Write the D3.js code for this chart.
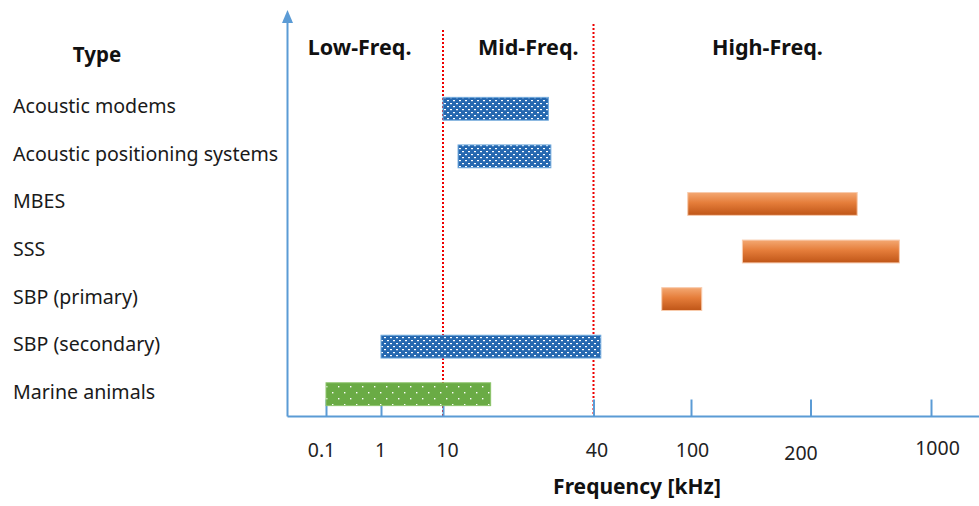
<!DOCTYPE html>
<html>
<head>
<meta charset="utf-8">
<script src="https://cdn.jsdelivr.net/npm/d3@7"></script>
<style>
  body { margin: 0; background: #fff; }
  svg { display: block; font-family: "Noto Sans", "Open Sans", sans-serif; }
</style>
</head>
<body>
<div id="chart"></div>
<script>
// Frequency ranges of underwater acoustic sources
const types = ['Acoustic modems', 'Acoustic positioning systems', 'MBES', 'SSS',
    'SBP (primary)', 'SBP (secondary)', 'Marine animals'];
const freqFrom = [10, 13, 98, 143, 82, 1, 0.1];
const freqTo = [31, 31.5, 510, 790, 109, 44.5, 19.5];
const fillKind = ['blue', 'blue', 'orange', 'orange', 'orange', 'blue', 'green'];

const tickValues = [0.1, 1, 10, 40, 100, 200, 1000];
const tickLabels = ['0.1', '1', '10', '40', '100', '200', '1000'];
const bandBounds = [10, 40];
const bandNames = ['Low-Freq.', 'Mid-Freq.', 'High-Freq.'];
const bandNameAt = [0.65, 27, 164];

const width = 979;
const height = 506;
const axisColor = '#5b9bd5';

// hand placed label nudges, as in the original slide
const tickDx = [-5, -1, 4, 3, 1, -10, 6];
const tickDy = [0, 0, 0, 0, 0, 3, -2];

const svg = d3.select('#chart')
    .append('svg')
    .attr('width', width)
    .attr('height', height);

// the frequency axis is not a real log scale, ticks are placed by hand
const x = d3.scaleLinear()
    .domain(tickValues)
    .range([326, 381, 443, 593.5, 691, 810.5, 931]);

const y = d3.scaleBand()
    .domain(types)
    .range([85, 418])
    .paddingInner(0.52)
    .paddingOuter(0.26);

const axisY = 416.5;
const axisX = 287.5;

// patterns and gradient
const defs = svg.append('defs');

const bluePat = defs.append('pattern')
    .attr('id', 'pat-blue')
    .attr('patternUnits', 'userSpaceOnUse')
    .attr('width', 6).attr('height', 6);
bluePat.append('rect').attr('width', 6).attr('height', 6).attr('fill', '#2568b0');
bluePat.append('rect').attr('x', 0).attr('y', 1).attr('width', 2).attr('height', 1.2).attr('fill', '#fff');
bluePat.append('rect').attr('x', 3).attr('y', 4).attr('width', 2).attr('height', 1.2).attr('fill', '#fff');

const greenPat = defs.append('pattern')
    .attr('id', 'pat-green')
    .attr('patternUnits', 'userSpaceOnUse')
    .attr('width', 12).attr('height', 12);
greenPat.append('rect').attr('width', 12).attr('height', 12).attr('fill', '#6aab45');
greenPat.append('rect').attr('x', 2).attr('y', 2).attr('width', 1.4).attr('height', 1.4).attr('fill', '#fff');
greenPat.append('rect').attr('x', 8).attr('y', 8).attr('width', 1.4).attr('height', 1.4).attr('fill', '#fff');

const grad = defs.append('linearGradient')
    .attr('id', 'grad-orange')
    .attr('x1', 0).attr('y1', 0).attr('x2', 0).attr('y2', 1);
grad.append('stop').attr('offset', '0%').attr('stop-color', '#f4a872');
grad.append('stop').attr('offset', '45%').attr('stop-color', '#e57d3a');
grad.append('stop').attr('offset', '100%').attr('stop-color', '#bf5517');

const fillFor = { blue: 'url(#pat-blue)', green: 'url(#pat-green)', orange: 'url(#grad-orange)' };
const strokeFor = { blue: '#6fa8dc', green: '#8cc46a', orange: '#f8cbad' };

// red dotted band separators
svg.selectAll('line.band')
    .data(bandBounds)
    .enter().append('line')
    .attr('class', 'band')
    .attr('x1', d => x(d)).attr('x2', d => x(d))
    .attr('y1', (d, i) => i === 0 ? 30 : 24)
    .attr('y2', axisY)
    .attr('stroke', '#ee0000')
    .attr('stroke-width', 2)
    .attr('stroke-dasharray', '2,2');

// x axis ticks and labels
const xAxis = d3.axisBottom(x)
    .tickValues(tickValues)
    .tickFormat((d, i) => tickLabels[i])
    .tickSizeInner(-17)
    .tickSizeOuter(0)
    .tickPadding(27);

const gx = svg.append('g')
    .attr('transform', `translate(0,${axisY})`)
    .call(xAxis);
gx.select('.domain').remove();
gx.selectAll('.tick line').attr('stroke', axisColor).attr('stroke-width', 2);
gx.selectAll('.tick text')
    .attr('font-size', 19.5)
    .attr('font-family', '"Noto Sans", sans-serif')
    .attr('fill', '#222')
    .attr('transform', (d, i) => `translate(${tickDx[i]},${tickDy[i]})`);

// bars
svg.selectAll('rect.bar')
    .data(types)
    .enter().append('rect')
    .attr('class', 'bar')
    .attr('x', (d, i) => x(freqFrom[i]))
    .attr('y', d => y(d))
    .attr('width', (d, i) => x(freqTo[i]) - x(freqFrom[i]))
    .attr('height', y.bandwidth())
    .attr('fill', (d, i) => fillFor[fillKind[i]])
    .attr('stroke', (d, i) => strokeFor[fillKind[i]])
    .attr('stroke-width', 1);

// axis lines
svg.append('line')
    .attr('x1', axisX).attr('x2', width)
    .attr('y1', axisY).attr('y2', axisY)
    .attr('stroke', axisColor).attr('stroke-width', 2);
svg.append('line')
    .attr('x1', axisX).attr('x2', axisX)
    .attr('y1', axisY).attr('y2', 20)
    .attr('stroke', axisColor).attr('stroke-width', 2);
svg.append('path')
    .attr('d', `M${axisX},10 L${axisX - 5.5},23 L${axisX + 5.5},23 Z`)
    .attr('fill', axisColor);

// category labels
svg.selectAll('text.type')
    .data(types)
    .enter().append('text')
    .attr('class', 'type')
    .attr('x', 13)
    .attr('y', d => y(d) + y.bandwidth() / 2 - 3)
    .attr('dominant-baseline', 'central')
    .attr('font-size', 19.6)
    .attr('fill', '#1a1a1a')
    .text(d => d);

svg.append('text')
    .attr('x', 97).attr('y', 62)
    .attr('text-anchor', 'middle')
    .attr('font-size', 20.5)
    .attr('font-weight', 'bold')
    .attr('fill', '#111')
    .text('Type');

// frequency band headings
svg.selectAll('text.bandname')
    .data(bandNames)
    .enter().append('text')
    .attr('class', 'bandname')
    .attr('x', (d, i) => x(bandNameAt[i]))
    .attr('y', 55)
    .attr('text-anchor', 'middle')
    .attr('font-size', 21.5)
    .attr('font-weight', 'bold')
    .attr('fill', '#111')
    .text(d => d);

svg.append('text')
    .attr('x', 637).attr('y', 494)
    .attr('text-anchor', 'middle')
    .attr('font-size', 21)
    .attr('font-weight', 'bold')
    .attr('fill', '#111')
    .text('Frequency [kHz]');
</script>
</body>
</html>
